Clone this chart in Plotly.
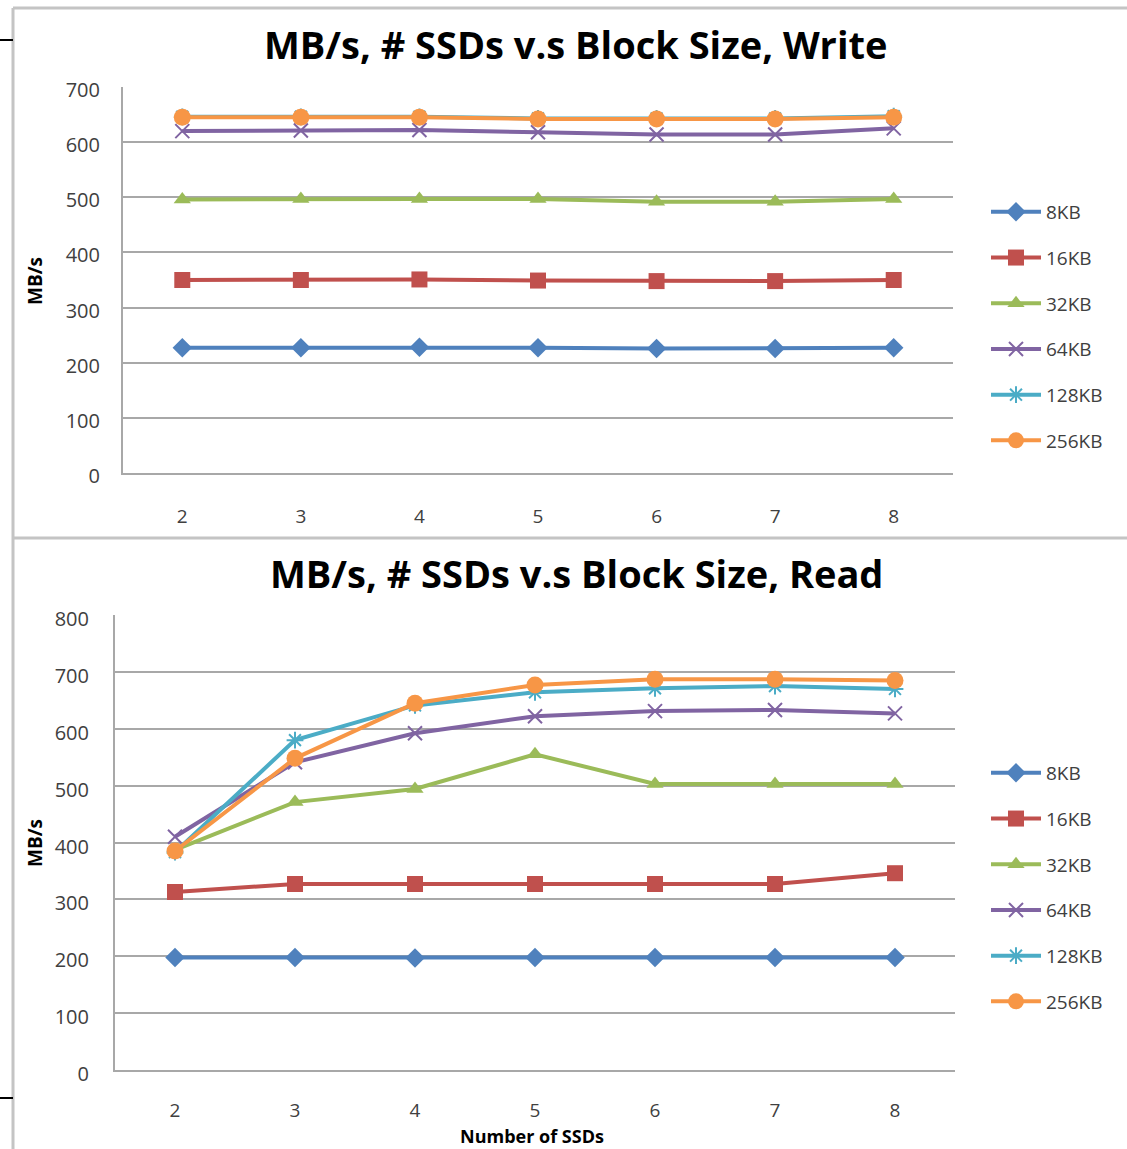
import plotly.graph_objects as go

# Throughput (MB/s) by number of SSDs for each block size
ssds = [2, 3, 4, 5, 6, 7, 8]
block_sizes = ["8KB", "16KB", "32KB", "64KB", "128KB", "256KB"]

write_8kb = [227, 227, 228, 227, 226, 226, 227]
write_16kb = [350, 350, 351, 349, 348, 348, 350]
write_32kb = [496, 497, 497, 497, 492, 492, 497]
write_64kb = [620, 621, 622, 618, 614, 614, 625]
write_128kb = [646, 646, 646, 643, 643, 643, 647]
write_256kb = [645, 645, 645, 642, 642, 642, 645]

read_8kb = [198, 198, 197, 198, 198, 198, 198]
read_16kb = [313, 327, 327, 327, 327, 327, 346]
read_32kb = [387, 471, 494, 555, 503, 503, 503]
read_64kb = [410, 541, 592, 622, 631, 633, 627]
read_128kb = [383, 580, 641, 664, 671, 675, 670]
read_256kb = [385, 548, 645, 677, 687, 687, 685]

write_series = [write_8kb, write_16kb, write_32kb, write_64kb, write_128kb, write_256kb]
read_series = [read_8kb, read_16kb, read_32kb, read_64kb, read_128kb, read_256kb]

colors = ["#4F81BD", "#C0504D", "#9BBB59", "#8064A2", "#4BACC6", "#F79646"]
symbols = ["diamond", "square", "triangle-up", "x-thin-open", "asterisk-open", "circle"]
sizes = [15, 16, 15, 14, 14, 17]

W, H = 1127, 1149
FONT = "Open Sans"
GRID = "#a8a8a8"
TEXT = "#404040"


def px_x(x):
    return x / W


def px_y(y):
    return 1 - y / H


fig = go.Figure()


def add_chart(series, xref, yref, legend):
    for name, vals, col, sym, sz in zip(block_sizes, series, colors, symbols, sizes):
        open_sym = sym.endswith("open")
        fig.add_trace(go.Scatter(
            x=ssds, y=vals, name=name, mode="lines+markers",
            xaxis=xref, yaxis=yref, legend=legend,
            legendgroup=legend + name,
            line=dict(color=col, width=4),
            marker=dict(symbol=sym, size=sz, color=col,
                        line=dict(color=col, width=2 if open_sym else 0)),
        ))


add_chart(write_series, "x", "y", "legend")
add_chart(read_series, "x2", "y2", "legend2")

axis_common = dict(
    showgrid=False, zeroline=False, showline=True, linecolor=GRID, linewidth=2,
    ticks="", automargin=False, tickfont=dict(family=FONT, size=19, color=TEXT),
)
yaxis_common = dict(
    showgrid=True, gridcolor=GRID, gridwidth=1.5, zeroline=False,
    showline=True, linecolor=GRID, linewidth=2, ticks="", automargin=False,
    tickfont=dict(family=FONT, size=20, color=TEXT), dtick=100,
)

legend_common = dict(
    font=dict(family=FONT, size=19, color=TEXT),
    bgcolor="rgba(0,0,0,0)", tracegroupgap=18, itemwidth=50,
    xanchor="left", yanchor="top",
)

fig.update_layout(
    width=W, height=H,
    margin=dict(l=0, r=0, t=0, b=0, autoexpand=False),
    paper_bgcolor="white", plot_bgcolor="white",
    xaxis=dict(axis_common, domain=[px_x(123), px_x(953)], range=[1.5, 8.5],
               tickvals=ssds, anchor="y", ticklabelstandoff=25),
    yaxis=dict(yaxis_common, domain=[px_y(473), px_y(87)], range=[0, 700],
               anchor="x", ticklabelstandoff=17, ticklabelshift=3),
    xaxis2=dict(axis_common, domain=[px_x(115), px_x(955)], range=[1.5, 8.5],
                tickvals=ssds, anchor="y2", ticklabelstandoff=22),
    yaxis2=dict(yaxis_common, domain=[px_y(1070), px_y(615)], range=[0, 800],
                anchor="x2", ticklabelstandoff=20, ticklabelshift=4),
    legend=dict(legend_common, x=px_x(986), y=px_y(193)),
    legend2=dict(legend_common, x=px_x(986), y=px_y(754)),
    showlegend=True,
)

# Chart titles and axis titles
annos = [
    dict(text="<b>MB/s, # SSDs v.s Block Size, Write</b>", x=px_x(575), y=px_y(44), size=38),
    dict(text="<b>MB/s, # SSDs v.s Block Size, Read</b>", x=px_x(576), y=px_y(573), size=38),
    dict(text="<b>Number of SSDs</b>", x=px_x(532), y=px_y(1136), size=18),
]
for a in annos:
    fig.add_annotation(text=a["text"], x=a["x"], y=a["y"], xref="paper", yref="paper",
                       showarrow=False, xanchor="center", yanchor="middle",
                       font=dict(family=FONT, size=a["size"], color="#000000"))
for yc in (281, 843):
    fig.add_annotation(text="<b>MB/s</b>", x=px_x(35), y=px_y(yc), xref="paper", yref="paper",
                       showarrow=False, textangle=-90, xanchor="center", yanchor="middle",
                       font=dict(family=FONT, size=19, color="#000000"))

# Chart frames and edge marks
frame = "#c4c4c4"
shapes = [
    dict(type="line", x0=px_x(13), x1=1, y0=px_y(8), y1=px_y(8), line=dict(color=frame, width=3)),
    dict(type="line", x0=px_x(13), x1=px_x(13), y0=px_y(8), y1=0, line=dict(color=frame, width=3)),
    dict(type="line", x0=px_x(13), x1=1, y0=px_y(538), y1=px_y(538), line=dict(color=frame, width=3)),
    dict(type="line", x0=0, x1=px_x(13), y0=px_y(40), y1=px_y(40), line=dict(color="#000000", width=2)),
    dict(type="line", x0=0, x1=px_x(13), y0=px_y(1098), y1=px_y(1098), line=dict(color="#000000", width=2)),
]
for s in shapes:
    fig.add_shape(xref="paper", yref="paper", **s)

fig.write_html("out.html")
